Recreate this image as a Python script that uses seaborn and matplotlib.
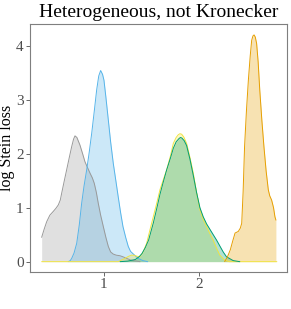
import numpy as np
import pandas as pd
import matplotlib
matplotlib.use("Agg")
import matplotlib.pyplot as plt
import seaborn as sns

# density curves (x = value, y = density)
gray_x = [0.344, 0.37, 0.397, 0.43, 0.466, 0.495, 0.519, 0.54, 0.555, 0.58, 0.607, 0.635, 0.66,
          0.68, 0.695, 0.715, 0.747, 0.775, 0.80, 0.83, 0.853, 0.878, 0.898, 0.92, 0.94, 0.965,
          0.993, 1.02, 1.046, 1.07, 1.098, 1.13, 1.168, 1.20, 1.24, 1.28, 1.31, 1.38]
gray_y = [0.45, 0.60, 0.74, 0.86, 0.93, 0.99, 1.05, 1.14, 1.27, 1.48, 1.70, 1.93, 2.13,
          2.27, 2.33, 2.30, 2.16, 2.00, 1.85, 1.73, 1.64, 1.55, 1.45, 1.28, 1.08, 0.86,
          0.65, 0.45, 0.28, 0.18, 0.14, 0.12, 0.11, 0.09, 0.06, 0.03, 0.02, 0.0]

blue_x = [0.624, 0.645, 0.66, 0.685, 0.713, 0.74, 0.765, 0.79, 0.818, 0.845, 0.871, 0.90,
          0.923, 0.945, 0.965, 0.985, 1.0, 1.02, 1.046, 1.07, 1.098, 1.125, 1.15, 1.175,
          1.20, 1.23, 1.256, 1.28, 1.31, 1.36, 1.41, 1.46]
blue_y = [0.0, 0.02, 0.06, 0.16, 0.34, 0.68, 1.08, 1.40, 1.70, 2.03, 2.38, 2.82,
          3.18, 3.44, 3.54, 3.47, 3.36, 3.05, 2.62, 2.22, 1.82, 1.50, 1.20, 0.91,
          0.65, 0.44, 0.28, 0.19, 0.14, 0.06, 0.02, 0.0]

yellow_x = [0.344, 1.15, 1.22, 1.26, 1.29, 1.31, 1.33, 1.35, 1.379, 1.41, 1.449, 1.48, 1.519,
            1.555, 1.589, 1.625, 1.66, 1.70, 1.73, 1.76, 1.782, 1.80, 1.818, 1.84, 1.87, 1.905,
            1.94, 1.975, 2.01, 2.045, 2.08, 2.115, 2.15, 2.185, 2.22, 2.27, 2.32, 2.82]
yellow_y = [0.0, 0.0, 0.06, 0.10, 0.12, 0.12, 0.11, 0.10, 0.09, 0.17, 0.34, 0.56, 0.83,
            1.08, 1.33, 1.52, 1.70, 1.96, 2.19, 2.30, 2.35, 2.37, 2.36, 2.31, 2.19, 1.93,
            1.64, 1.28, 0.96, 0.78, 0.65, 0.52, 0.40, 0.25, 0.12, 0.03, 0.0, 0.0]

green_x = [1.17, 1.25, 1.33, 1.37, 1.40, 1.435, 1.47, 1.52, 1.555, 1.59, 1.625, 1.66, 1.70,
           1.73, 1.76, 1.79, 1.805, 1.82, 1.845, 1.87, 1.905, 1.94, 1.975, 2.01, 2.045, 2.08,
           2.115, 2.15, 2.185, 2.22, 2.255, 2.29, 2.36, 2.43]
green_y = [0.0, 0.01, 0.04, 0.09, 0.15, 0.26, 0.40, 0.72, 0.98, 1.25, 1.48, 1.70, 1.92,
           2.10, 2.22, 2.28, 2.30, 2.29, 2.24, 2.15, 1.90, 1.60, 1.28, 1.00, 0.83, 0.70,
           0.60, 0.50, 0.40, 0.29, 0.18, 0.09, 0.02, 0.0]

orange_x = [2.27, 2.30, 2.33, 2.355, 2.38, 2.414, 2.435, 2.45, 2.465, 2.48, 2.50, 2.52,
            2.54, 2.555, 2.568, 2.58, 2.593, 2.607, 2.623, 2.64, 2.662, 2.684, 2.707,
            2.73, 2.745, 2.765, 2.785, 2.80, 2.81]
orange_y = [0.0, 0.09, 0.22, 0.38, 0.53, 0.56, 0.62, 0.71, 1.30, 2.13, 2.80, 3.36,
            3.82, 4.10, 4.18, 4.20, 4.16, 4.04, 3.70, 3.18, 2.62, 2.13, 1.68,
            1.33, 1.22, 1.14, 1.00, 0.83, 0.77]

curves = [
    (gray_x, gray_y, "#999999"),
    (blue_x, blue_y, "#56B4E9"),
    (yellow_x, yellow_y, "#F0E442"),
    (green_x, green_y, "#009E73"),
    (orange_x, orange_y, "#E69F00"),
]

sns.set_theme(style="white")
plt.rcParams['font.family'] = ['Liberation Serif', 'DejaVu Serif']

fig = plt.figure(figsize=(2.91, 3.09), dpi=100)
ax = fig.add_axes([0.103, 0.12, 0.883, 0.802])

for xs, ys, col in curves:
    ax.fill_between(xs, 0, ys, color=col, alpha=0.3, linewidth=0)
    df = pd.DataFrame({"x": xs, "y": ys})
    sns.lineplot(data=df, x="x", y="y", color=col, linewidth=0.7, ax=ax, sort=False)

ax.set_xlim(0.221, 2.926)
ax.set_ylim(-0.19, 4.40)
ax.set_xticks([1, 2])
ax.set_yticks([0, 1, 2, 3, 4])
ax.set_xlabel("")
ax.set_ylabel("log Stein loss", fontsize=11.5, color="black")
ax.yaxis.set_label_coords(-0.058, 0.5)
ax.set_title("Heterogeneous, not Kronecker", fontsize=14, color="black", pad=5)
ax.tick_params(axis="both", labelsize=11, colors="#4d4d4d", length=3, width=0.6,
               direction="out", pad=1.5, bottom=True, left=True)
for s in ax.spines.values():
    s.set_color("#7f7f7f")
    s.set_linewidth(0.8)
ax.grid(False)

fig.savefig("out.png", dpi=100)
